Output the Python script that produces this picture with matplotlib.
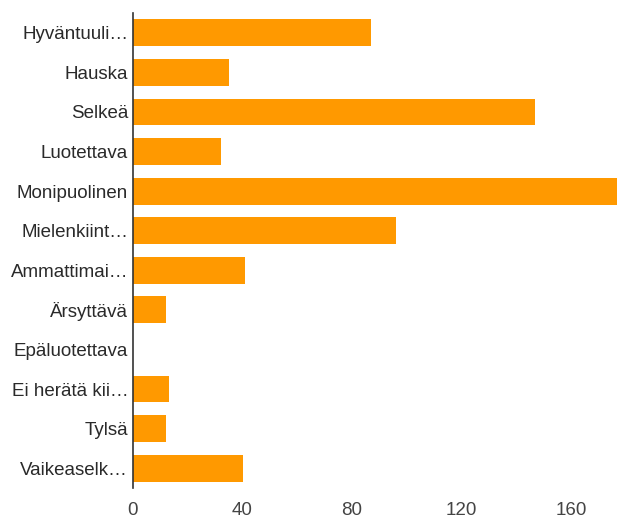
import matplotlib
matplotlib.use("Agg")
import matplotlib.pyplot as plt

plt.rcParams["font.family"] = ["Liberation Sans", "DejaVu Sans"]

labels = [
    "Hyväntuuli…", "Hauska", "Selkeä", "Luotettava", "Monipuolinen",
    "Mielenkiint…", "Ammattimai…", "Ärsyttävä", "Epäluotettava",
    "Ei herätä kii…", "Tylsä", "Vaikeaselk…",
]
counts = [87, 35, 147, 32, 182, 96, 41, 12, 0, 13, 12, 40]
xticks = [0, 40, 80, 120, 160]

fig = plt.figure(figsize=(6.17, 5.19), dpi=100)
# chart was cropped on the right, so the axes run to the figure edge
ax = fig.add_axes([133 / 617, 1 - 488 / 519, 1 - 133 / 617, 475 / 519])

pos = range(len(labels))
ax.barh(pos, counts, height=0.68, color="#ff9900", zorder=2)
ax.set_ylim(len(labels) - 0.5, -0.5)
ax.set_xlim(0, 176.8)

ax.set_yticks(list(pos))
ax.set_yticklabels(labels, fontsize=13.5, color="#2a2a2a")
ax.set_xticks(xticks)
ax.set_xticklabels([str(t) for t in xticks], fontsize=13.5, color="#444444")
ax.tick_params(axis="y", length=0, pad=3.5)
ax.tick_params(axis="x", length=0, pad=10)

for side in ("top", "right", "bottom"):
    ax.spines[side].set_visible(False)
ax.spines["left"].set_color("#333333")
ax.spines["left"].set_linewidth(1.2)
ax.spines["left"].set_zorder(3)

fig.savefig("out.png", dpi=100)
